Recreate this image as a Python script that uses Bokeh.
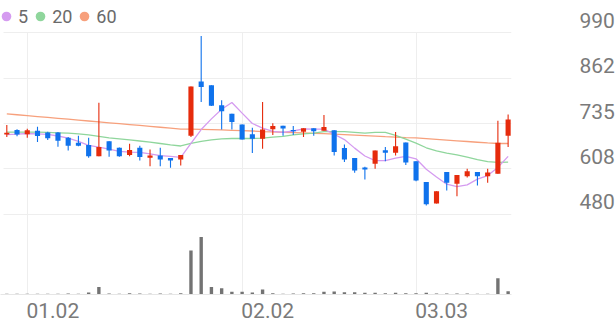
import numpy as np
from bokeh.plotting import figure
from bokeh.models import ColumnDataSource, FixedTicker, Range1d, Legend, LegendItem
from bokeh.embed import file_html
from bokeh.resources import INLINE

# ---------------- data ----------------
dates = ["12.29", "12.30", "01.02", "01.05", "01.06", "01.07", "01.08", "01.09",
         "01.12", "01.13", "01.14", "01.15", "01.16", "01.19", "01.20", "01.21",
         "01.22", "01.23", "01.26", "01.27", "01.28", "01.29", "01.30", "02.02",
         "02.03", "02.04", "02.05", "02.06", "02.09", "02.10", "02.11", "02.12",
         "02.13", "02.19", "02.20", "02.23", "02.24", "02.25", "02.26", "02.27",
         "03.03", "03.04", "03.05", "03.06", "03.09", "03.10", "03.11", "03.12",
         "03.13", "03.16"]

opens = [704, 717, 705, 715, 710, 710, 695, 681, 675, 643,
         685, 667, 647, 667, 639, 645, 638, 634, 701, 853,
         842, 786, 762, 732, 705, 692, 719, 729, 717, 712,
         722, 715, 716, 666, 638, 612, 622, 660, 653, 682,
         629, 571, 511, 599, 566, 587, 599, 587, 594, 701]
highs = [731, 719, 720, 726, 712, 711, 697, 701, 695, 793,
         685, 668, 678, 673, 662, 667, 638, 647, 839, 980,
         842, 800, 762, 732, 723, 795, 736, 729, 728, 722,
         722, 759, 716, 676, 638, 614, 659, 669, 711, 682,
         629, 571, 545, 599, 591, 608, 599, 608, 743, 760]
lows = [697, 699, 695, 683, 689, 670, 659, 671, 639, 643,
        642, 642, 643, 631, 615, 615, 611, 617, 697, 795,
        784, 718, 718, 690, 652, 664, 703, 701, 703, 697,
        701, 715, 645, 627, 597, 578, 608, 629, 645, 619,
        573, 505, 511, 547, 531, 584, 561, 569, 594, 669]
closes = [709, 704, 716, 700, 694, 687, 673, 673, 643, 669,
          659, 643, 661, 641, 645, 634, 631, 647, 839, 837,
          785, 769, 739, 690, 692, 718, 728, 721, 713, 722,
          713, 725, 655, 634, 603, 606, 659, 653, 671, 626,
          575, 509, 545, 569, 591, 601, 587, 598, 681, 746]
volumes = [8000, 8000, 8000, 8000, 8000, 8000, 10000, 8000, 20000, 76000,
           10000, 8000, 13000, 10000, 8000, 10000, 8000, 13000, 440000, 576000,
           76000, 63000, 27000, 27000, 20000, 50000, 13000, 8000, 10000, 13000,
           13000, 27000, 30000, 23000, 23000, 17000, 17000, 13000, 17000, 13000,
           13000, 17000, 10000, 10000, 10000, 10000, 8000, 8000, 163000, 33000]

ma5 = [704, 705, 707, 706, 704.5, 700, 694, 685, 674, 669,
       663, 657, 655, 654, 650, 645, 643, 640, 679, 718,
       748, 775, 794, 764, 735, 722, 713, 710, 714, 720,
       719, 719, 705, 690, 666, 644, 631, 631, 638, 643,
       636, 607, 585, 565, 558, 563, 579, 589, 612, 643]
ma20 = [711, 711, 711, 711, 710, 709, 708, 706, 703, 699,
        695, 692, 689, 686, 683, 679, 675, 672, 679, 685,
        689, 692, 693, 693, 693, 694, 697, 699, 703, 706,
        708, 712, 712, 712, 710, 708, 710, 710, 702, 691,
        680, 667, 658, 652, 647, 641, 634, 628, 626, 627]
ma60 = [762, 759.5, 757, 754.5, 752, 749.5, 747, 744.5, 742, 739.5,
        737, 734.5, 732, 729.5, 727, 724.5, 722, 719.5, 719, 718.5,
        718, 717, 716, 715, 714, 712.5, 711.5, 710.5, 709.5, 708.5,
        707.5, 706.5, 705.5, 704, 702.5, 701, 699.5, 698, 697, 695.5,
        694.5, 692.5, 690.5, 688.5, 686.5, 684.5, 682.5, 680.5, 679, 679]

ma_names = ["5", "20", "60"]
x_tick_labels = ["01.02", "02.02", "03.03"]
price_ticks = [480, 607.5, 735, 862.5, 990]
price_tick_labels = ["480", "608", "735", "862", "990"]

# ---------------- styles ----------------
UP = "#e62b0c"
DOWN = "#0f72ec"
MA_COLORS = ["#d59bf0", "#8fd69c", "#f7a07c"]
VOL_COLOR = "#737373"
GRID = "#eeeeee"
TEXT = "#7a7a7a"
FONT = "Roboto"

x = np.arange(len(dates))
o = np.array(opens, float)
c = np.array(closes, float)
colors = [UP if cc >= oo else DOWN for oo, cc in zip(o, c)]

src = ColumnDataSource(dict(
    x=x, high=highs, low=lows,
    top=np.maximum(o, c), bottom=np.minimum(o, c),
    color=colors, vol=volumes,
    ma5=ma5, ma20=ma20, ma60=ma60,
))

X_START, X_END = -0.616, 49.33
Y_START, Y_END = 255.8, 1079.7

p = figure(width=616, height=321, frame_width=511, frame_height=294,
           x_range=Range1d(X_START, X_END), y_range=Range1d(Y_START, Y_END),
           y_axis_location="right",
           min_border_left=0, min_border_right=105, min_border_top=0, min_border_bottom=27,
           output_backend="svg", toolbar_location=None)
p.outline_line_color = None
p.background_fill_color = "white"
p.border_fill_color = "white"

p.extra_y_ranges = {"vol": Range1d(0, 2940000)}

# volume bars
p.vbar(x="x", top="vol", width=0.33, source=src, y_range_name="vol",
       fill_color=VOL_COLOR, line_color=None)

# moving averages
ma_keys = ["ma5", "ma20", "ma60"]
for key, col in list(zip(ma_keys, MA_COLORS))[::-1]:
    p.line("x", key, source=src, line_color=col, line_width=1.3)

# candles
p.segment(x0="x", y0="high", x1="x", y1="low", source=src, line_color="color", line_width=1.1)
p.vbar(x="x", width=0.5, top="top", bottom="bottom", source=src,
       fill_color="color", line_color=None)

# grids
tick_idx = [dates.index(t) for t in x_tick_labels]
p.xgrid.ticker = FixedTicker(ticks=tick_idx)
p.ygrid.ticker = FixedTicker(ticks=price_ticks)
for g in (p.xgrid, p.ygrid):
    g.grid_line_color = GRID
    g.grid_line_width = 1
try:
    p.xgrid.cross_bounds = (Y_START, max(price_ticks))
    p.ygrid.cross_bounds = (-0.32, X_END)
except Exception:
    pass

# x axis: labels start at the grid line
label_shift = 2.5
p.xaxis.ticker = FixedTicker(ticks=[t + label_shift for t in tick_idx])
p.xaxis.major_label_overrides = {t + label_shift: lbl for t, lbl in zip(tick_idx, x_tick_labels)}
p.xaxis.axis_line_color = "#e6e6e6"
p.xaxis.major_tick_line_color = None
p.xaxis.minor_tick_line_color = None
p.xaxis.major_label_standoff = 2
p.xaxis.major_label_text_font = FONT
p.xaxis.major_label_text_font_size = "21px"
p.xaxis.major_label_text_color = TEXT

# y axis (right): labels sit just above their grid line
p.yaxis.ticker = FixedTicker(ticks=price_ticks)
p.yaxis.major_label_overrides = {t: lbl + "\n" for t, lbl in zip(price_ticks, price_tick_labels)}
p.yaxis.axis_line_color = None
p.yaxis.major_tick_line_color = None
p.yaxis.minor_tick_line_color = None
p.yaxis.major_label_standoff = 62
p.yaxis.major_label_text_font = FONT
p.yaxis.major_label_text_font_size = "21px"
p.yaxis.major_label_text_line_height = 1.0
p.yaxis.major_label_text_color = TEXT

# legend with dots at the top-left (markers of size 0 on the series: only the legend shows them)
items = []
for name, key, col in zip(ma_names, ma_keys, MA_COLORS):
    r = p.scatter("x", key, source=src, marker="circle", size=0,
                  fill_color=col, line_color=None)
    items.append(LegendItem(label=name, renderers=[r]))
legend = Legend(items=items, orientation="horizontal", location=(-6, 266),
                glyph_width=24, glyph_height=24, label_standoff=-3, spacing=-2,
                padding=0, margin=0, label_width=0, label_height=20,
                label_text_font=FONT, label_text_font_size="18px",
                label_text_color="#6a6a6a", border_line_color=None,
                background_fill_alpha=0)
p.add_layout(legend)

open("out.html", "w").write(file_html(p, INLINE))
